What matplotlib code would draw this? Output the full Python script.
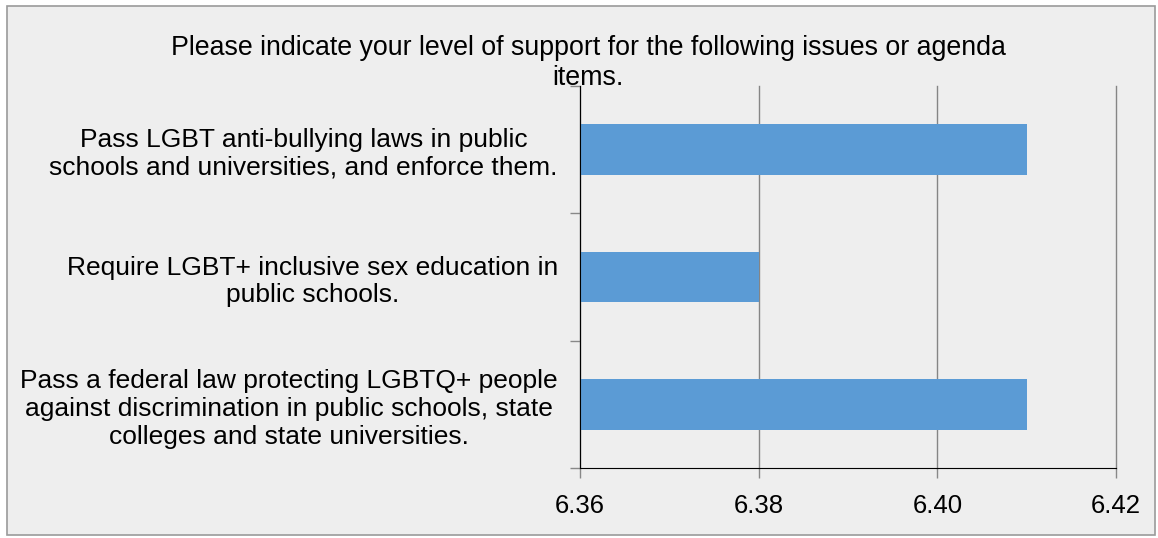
import numpy as np
import matplotlib.pyplot as plt
from matplotlib.patches import Rectangle
from matplotlib.ticker import FixedLocator

plt.rcParams['font.family'] = ['Liberation Sans', 'DejaVu Sans']

# survey items, top to bottom
items = ["Pass LGBT anti-bullying laws in public\nschools and universities, and enforce them.",
         "Require LGBT+ inclusive sex education in\npublic schools.",
         "Pass a federal law protecting LGBTQ+ people\nagainst discrimination in public schools, state\ncolleges and state universities."]
scores = [6.41, 6.38, 6.41]
xticks = [6.36, 6.38, 6.40, 6.42]
title = "Please indicate your level of support for the following issues or agenda\nitems."

W, H = 1158, 538
fig = plt.figure(figsize=(W / 100, H / 100), dpi=100)
fig.patch.set_facecolor('white')
# grey panel with a thin frame behind everything
fig.patches.append(Rectangle((7 / W, 3 / H), 1148 / W, 529 / H, transform=fig.transFigure,
                             facecolor='#eeeeee', edgecolor='#9a9a9a', lw=1.2, zorder=-5))

ax = fig.add_axes([580 / W, 1 - 468 / H, (1116 - 580) / W, (468 - 86) / H])
ax.set_facecolor('none')

y = np.arange(len(items))
ax.barh(y, [s - xticks[0] for s in scores], left=xticks[0], height=0.4,
        color='#5b9bd5', zorder=3)

ax.set_xlim(xticks[0], xticks[-1])
ax.set_ylim(len(items) - 0.5, -0.5)
ax.set_xticks(xticks)
ax.set_xticklabels(["%.2f" % t for t in xticks], fontsize=18.5)
ax.set_yticks(y)
ax.set_yticklabels(items, fontsize=19, ha='right', multialignment='center',
                   linespacing=1.2)
ax.tick_params(axis='y', length=0, pad=16)
ax.yaxis.set_minor_locator(FixedLocator(np.arange(-0.5, len(items), 1.0)))
ax.tick_params(axis='y', which='minor', length=7, color='#888888', width=1)
ax.tick_params(axis='x', length=7, color='#888888', width=1, pad=12)

ax.grid(axis='x', color='#858585', lw=1.0, zorder=1)
for gl in ax.get_xgridlines():
    gl.set_clip_on(False)
for side in ['top', 'right']:
    ax.spines[side].set_visible(False)
ax.spines['left'].set_zorder(4)
ax.spines['bottom'].set_zorder(4)

fig.text(588 / W, 1 - 63 / H, title, ha='center', va='center', fontsize=19.3,
         linespacing=1.2)

fig.savefig('out.png', dpi=100)
